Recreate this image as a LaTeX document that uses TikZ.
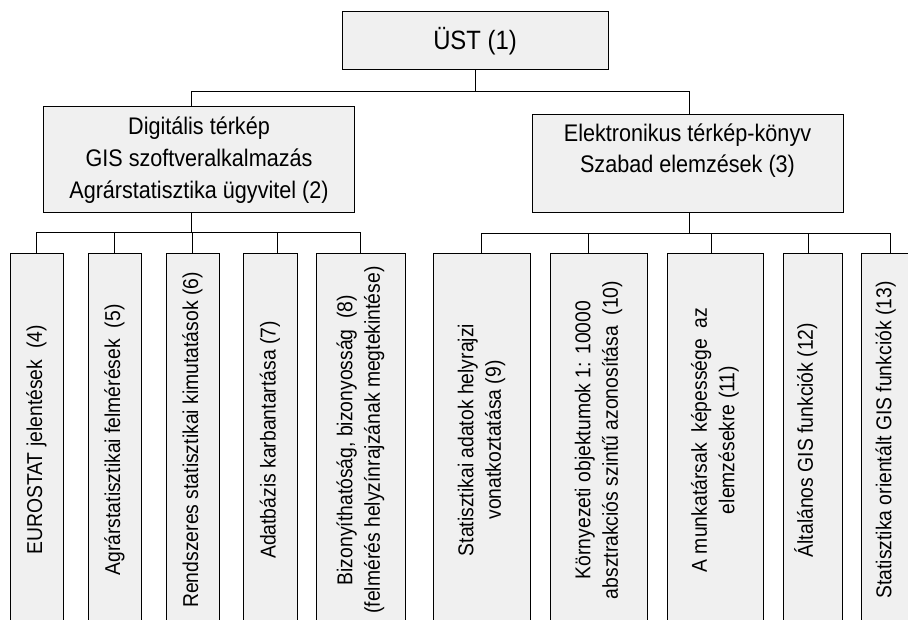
\documentclass[tikz,border=0pt]{standalone}
\usepackage{fontspec}
\setmainfont{Liberation Sans}[FakeStretch=0.9]
\definecolor{boxgray}{HTML}{F0F0F0}
\tikzset{
  box/.style={draw, line width=1pt, fill=boxgray, inner sep=0pt},
  topbox/.style={box, minimum width=266pt, minimum height=58pt, font=\fontsize{26.5}{30}\selectfont},
  midbox/.style={box, minimum width=311pt, align=center, font=\fontsize{24}{31.7}\selectfont},
  leaf/.style={box, rotate=90, minimum width=372pt, minimum height=#1, align=center, font=\fontsize{21.5}{27.5}\selectfont},
  link/.style={line width=1pt}
}
\begin{document}
\begin{tikzpicture}[x=1pt,y=1pt]
        \useasboundingbox (0,0) rectangle (908,-620);
        \clip (0,0) rectangle (908,-620);
        \node [topbox] (ust) at (475,-41) {ÜST (1)};
        \node [midbox, minimum height=106pt] (dig) at (199,-160) {Digitális térkép\\ GIS szoftveralkalmazás\\ Agrárstatisztika ügyvitel (2)};
        \node [midbox, minimum height=98pt] (elek) at (687.5,-164) {Elektronikus térkép-könyv\\ Szabad elemzések (3)\\ \mbox{}};
        \node [leaf=53pt] (eurostat) at (36.5,-440) {EUROSTAT jelentések~ (4)};
        \node [leaf=53pt] (felmeres) at (114.5,-440) {Agrárstatisztikai felmérések~ (5)};
        \node [leaf=53pt] (kimutatas) at (192.5,-440) {Rendszeres statisztikai kimutatások (6)};
        \node [leaf=54pt] (adatbazis) at (270,-440) {Adatbázis karbantartása (7)};
        \node [leaf=89pt] (bizonyit) at (360.5,-440) {Bizonyíthatóság, bizonyosság~ (8)\\ (felmérés helyzínrajzának megtekintése)};
        \node [leaf=97pt] (helyrajz) at (481.5,-440) {Statisztikai adatok helyrajzi\\ vonatkoztatása (9)};
        \node [leaf=97pt] (absztrakt) at (598.5,-440) {Környezeti objektumok 1: 10000\\ absztrakciós szintű azonosítása~ (10)};
        \node [leaf=96pt] (munkatars) at (715,-440) {A munkatársak~ képessége~ az\\ elemzésekre (11)};
        \node [leaf=59pt, text depth=18pt] (altalanos) at (812.5,-440) {Általános GIS funkciók (12)};
        \node [leaf=59pt, text depth=14pt] (orientalt) at (890.5,-440) {Statisztika orientált GIS funkciók (13)};
        \coordinate (topbus) at (0,-92);
        \coordinate (leftbus) at (0,-233);
        \coordinate (rightbus) at (0,-234);
        \draw [link] (ust.south) -- (ust.south |- topbus);
        \draw [link] ([xshift=-8pt]dig.north) |- ([xshift=1.5pt]elek.north |- topbus) -- ([xshift=1.5pt]elek.north);
        \draw [link] ([xshift=-8pt]dig.south) -- ([xshift=-8pt]dig.south |- leftbus);
        \draw [link] ([xshift=1.5pt]elek.south) -- ([xshift=1.5pt]elek.south |- rightbus);
        \draw [link] (eurostat.east) |- (bizonyit.east |- leftbus) -- (bizonyit.east);
        \draw [link] (felmeres.east) -- (felmeres.east |- leftbus);
        \draw [link] (kimutatas.east) -- (kimutatas.east |- leftbus);
        \draw [link] ([xshift=7pt]adatbazis.east) -- ([xshift=7pt]adatbazis.east |- leftbus);
        \draw [link] (helyrajz.east) |- (orientalt.east |- rightbus) -- (orientalt.east);
        \draw [link] ([xshift=-10.5pt]absztrakt.east) -- ([xshift=-10.5pt]absztrakt.east |- rightbus);
        \draw [link] ([xshift=-4pt]munkatars.east) -- ([xshift=-4pt]munkatars.east |- rightbus);
        \draw [link] ([xshift=-4.5pt]altalanos.east) -- ([xshift=-4.5pt]altalanos.east |- rightbus);
\end{tikzpicture}
\end{document}
